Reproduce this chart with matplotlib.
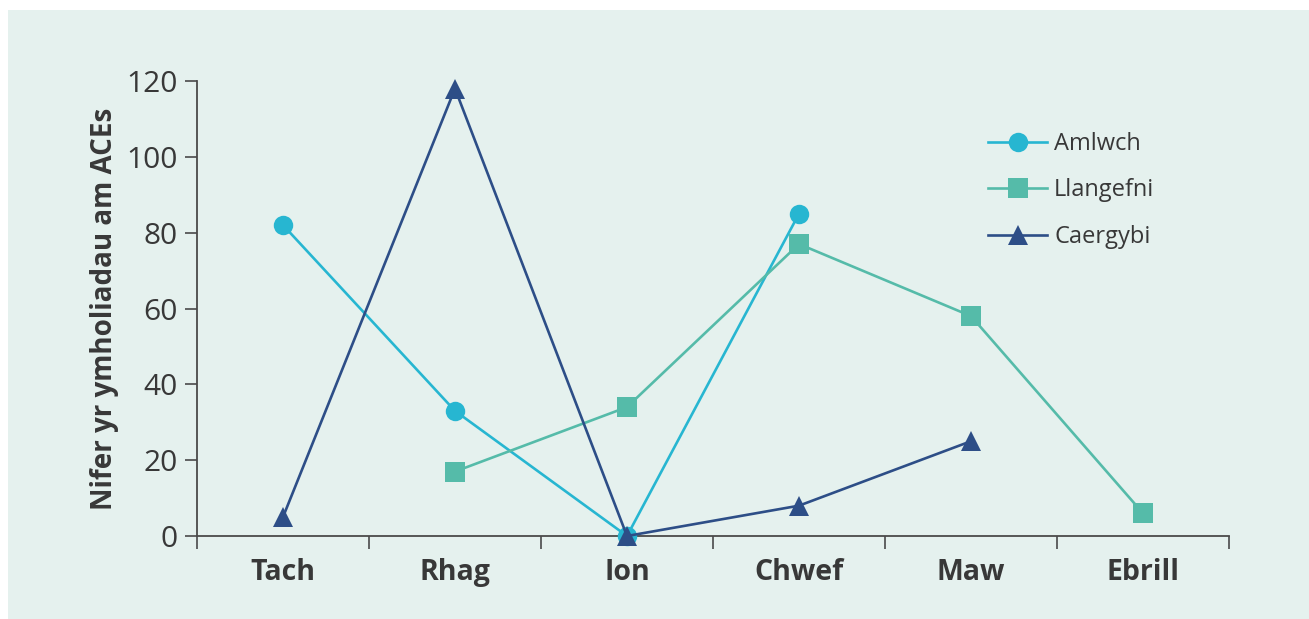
import matplotlib
matplotlib.use("Agg")
import matplotlib.pyplot as plt
from matplotlib.patches import Rectangle

# Monthly counts of ACE enquiries per area
months = ["Tach", "Rhag", "Ion", "Chwef", "Maw", "Ebrill"]
amlwch = [82, 33, 0, 85, None, None]
llangefni = [None, 17, 34, 77, 58, 6]
caergybi = [5, 118, 0, 8, 25, None]

BG = "#e5f1ee"
TEXT = "#383838"
AXIS = "#4a4a4a"

plt.rcParams["font.family"] = ["Open Sans", "DejaVu Sans"]

fig = plt.figure(figsize=(13.09, 6.19), dpi=100)
fig.patch.set_facecolor("white")
fig.patches.append(Rectangle((8 / 1309, 0), 1 - 8 / 1309, 1 - 10 / 619,
                             transform=fig.transFigure, facecolor=BG,
                             edgecolor="none", zorder=-10))

ax = fig.add_axes([197 / 1309, 1 - 536 / 619, 1032 / 1309, 455 / 619])
ax.set_facecolor("none")


def pts(values):
    xs = [i for i, v in enumerate(values) if v is not None]
    ys = [v for v in values if v is not None]
    return xs, ys


series = [
    ("Amlwch", amlwch, "#27b6d1", "o", 14),
    ("Llangefni", llangefni, "#55bba9", "s", 14),
    ("Caergybi", caergybi, "#2d4e87", "^", 14),
]
for z, (name, vals, col, mk, ms) in enumerate(series):
    xs, ys = pts(vals)
    ax.plot(xs, ys, color=col, lw=1.9, marker=mk, markersize=ms,
            markeredgewidth=0, label=name, clip_on=False, zorder=3 + z)

ax.set_xlim(-0.5, 5.5)
ax.set_ylim(0, 120)
ax.set_yticks(range(0, 121, 20))
ax.set_xticks([i - 0.5 for i in range(7)])
ax.set_xticklabels([])
ax.set_xticks(range(6), minor=True)
ax.set_xticklabels(months, minor=True, fontsize=20.5, fontweight="bold", color=TEXT)
ax.tick_params(axis="x", which="minor", length=0, pad=16)
ax.tick_params(axis="x", which="major", length=9, width=1.2, color=AXIS, direction="out")
ax.tick_params(axis="y", length=9, width=1.2, color=AXIS, labelsize=21.5,
               labelcolor=TEXT, pad=5)

for side in ("top", "right"):
    ax.spines[side].set_visible(False)
for side in ("left", "bottom"):
    ax.spines[side].set_color(AXIS)
    ax.spines[side].set_linewidth(1.3)

ax.set_ylabel("Nifer yr ymholiadau am ACEs", fontsize=20, fontweight="bold",
              color=TEXT, labelpad=5.5)

leg = ax.legend(loc="upper left", bbox_to_anchor=(988 / 1309, 1 - 132 / 619),
                bbox_transform=fig.transFigure, frameon=False, fontsize=17,
                handlelength=2.5, handletextpad=0.3, labelspacing=0.95,
                borderaxespad=0, borderpad=0)
for t in leg.get_texts():
    t.set_color(TEXT)

fig.savefig("out.png", dpi=100, facecolor=fig.get_facecolor())
